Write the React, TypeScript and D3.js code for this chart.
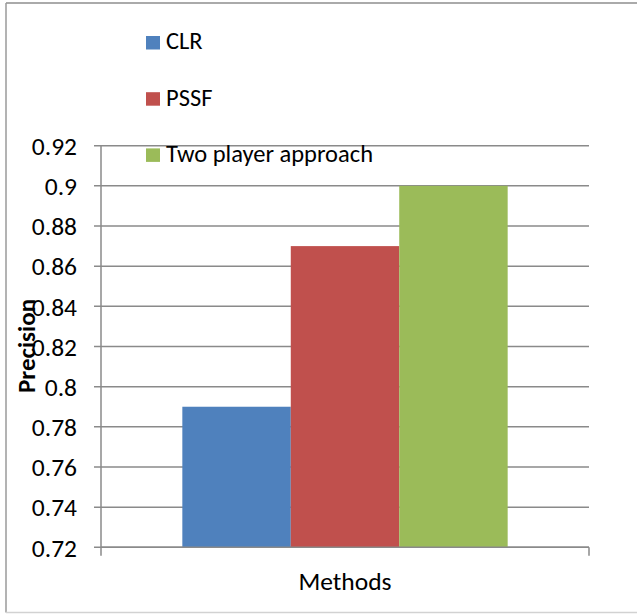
import React from "react";
import * as d3 from "d3";

const categories = ["Methods"];
const seriesNames = ["CLR", "PSSF", "Two player approach"];
const seriesValues = [0.79, 0.87, 0.9];
const seriesColors = ["#4F81BD", "#C0504D", "#9BBB59"];
const yTicks = [0.72, 0.74, 0.76, 0.78, 0.8, 0.82, 0.84, 0.86, 0.88, 0.9, 0.92];
const yLabel = "Precision";

const W = 637;
const H = 614;
const plot = { left: 101, right: 589, top: 145.7, bottom: 547.3 };
const FONT = "Carlito, Calibri, 'Open Sans', sans-serif";

export default function App() {
  const y = d3.scaleLinear().domain([0.72, 0.92]).range([plot.bottom, plot.top]);
  const x0 = d3.scaleBand().domain(categories).range([plot.left, plot.right]);
  const groupW = x0.bandwidth();
  const barW = groupW / (seriesNames.length + 1.5);
  const x1 = d3
    .scaleBand()
    .domain(seriesNames)
    .range([0, barW * seriesNames.length])
    .padding(0);
  const fmt = (v: number) => String(+v.toFixed(2));
  const grid = "#8a8a8a";

  return (
    <svg
      width={W}
      height={H}
      style={{ position: "absolute", left: 0, top: 0, background: "#fff" }}
    >
      {/* outer border */}
      <line x1={6} x2={W} y1={3} y2={3} stroke="#8e8e8e" strokeWidth={1.5} />
      <line x1={6} x2={6} y1={3} y2={612.5} stroke="#9a9a9a" strokeWidth={1.5} />
      <line x1={6} x2={W} y1={612.5} y2={612.5} stroke="#d2d2d2" strokeWidth={1.5} />

      {/* gridlines */}
      {yTicks.map((t) => (
        <g key={t}>
          <line x1={plot.left - 7} x2={plot.right} y1={y(t)} y2={y(t)} stroke={grid} strokeWidth={1.5} />
          <text
            x={77}
            y={y(t) + 9.2}
            textAnchor="end"
            fontFamily={FONT}
            fontSize={25.5}
            fill="#000"
          >
            {fmt(t)}
          </text>
        </g>
      ))}

      {/* bars */}
      {categories.map((c) => {
        const gx = (x0(c) as number) + (groupW - barW * seriesNames.length) / 2;
        return (
          <g key={c}>
            {seriesNames.map((s, i) => (
              <rect
                key={s}
                x={gx + (x1(s) as number)}
                y={y(seriesValues[i])}
                width={x1.bandwidth()}
                height={plot.bottom - y(seriesValues[i])}
                fill={seriesColors[i]}
              />
            ))}
            <text
              x={(x0(c) as number) + groupW / 2}
              y={589.5}
              textAnchor="middle"
              fontFamily={FONT}
              fontSize={25.5}
              fill="#000"
            >
              {c}
            </text>
          </g>
        );
      })}

      {/* axes */}
      <line x1={plot.left} x2={plot.left} y1={plot.top} y2={555.7} stroke={grid} strokeWidth={1.5} />
      <line x1={plot.left} x2={plot.right} y1={plot.bottom} y2={plot.bottom} stroke={grid} strokeWidth={1.5} />
      <line x1={plot.right} x2={plot.right} y1={plot.bottom} y2={555.7} stroke={grid} strokeWidth={1.5} />

      {/* y label */}
      <text
        transform={`translate(35,393) rotate(-90)`}
        fontFamily={FONT}
        fontWeight="bold"
        fontSize={25}
        fill="#000"
      >
        {yLabel}
      </text>

      {/* legend */}
      {seriesNames.map((s, i) => {
        const base = 49.3 + i * 56.2;
        return (
          <g key={s}>
            <rect x={146} y={base - 13.3} width={14} height={13.5} fill={seriesColors[i]} />
            <text x={166} y={base} fontFamily={FONT} fontSize={24.5} fill="#000">
              {s}
            </text>
          </g>
        );
      })}
    </svg>
  );
}
